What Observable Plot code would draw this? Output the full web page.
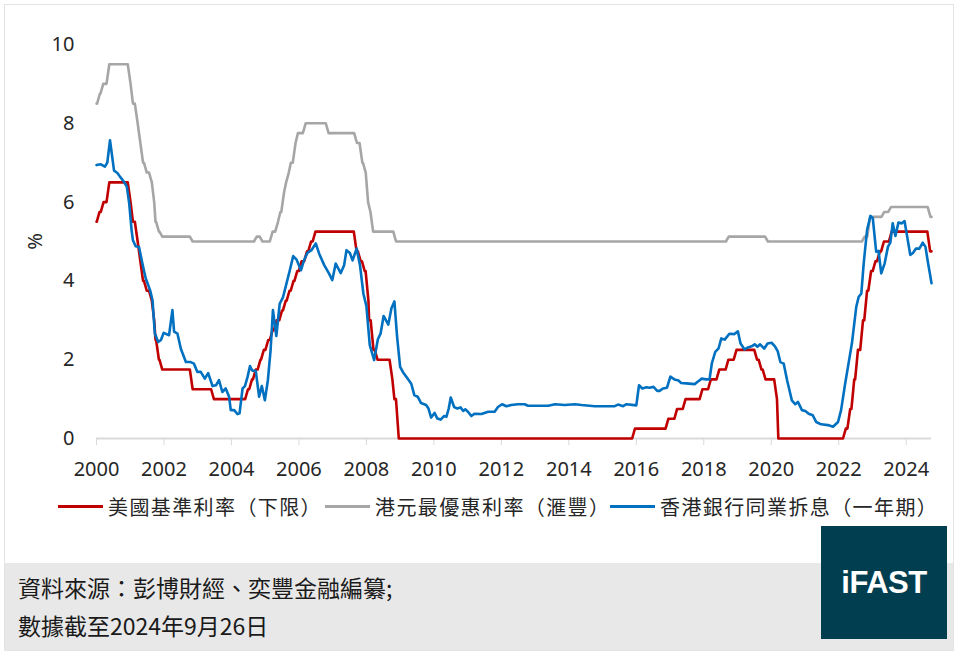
<!DOCTYPE html>
<html><head><meta charset="utf-8">
<script src="https://cdn.jsdelivr.net/npm/d3@7"></script>
<script src="https://cdn.jsdelivr.net/npm/@observablehq/plot@0.6"></script>
<style>
body{margin:0;background:#fff;}
#wrap{position:relative;width:964px;height:661px;overflow:hidden;font-family:"Noto Sans CJK TC","Noto Sans",sans-serif;color:#262626;}
#frame{position:absolute;left:4px;top:4px;width:950px;height:647px;border:1.5px solid #e3e3e3;box-sizing:border-box;}
#footer{position:absolute;left:5px;top:563px;width:948px;height:87px;background:#e8e8e8;}
#chart{position:absolute;left:0;top:0;}
.leg{position:absolute;top:491px;height:30px;display:flex;align-items:center;font-size:20px;white-space:nowrap;letter-spacing:1.4px;}
.sw{width:45px;height:3px;margin-right:5px;}
.foot{position:absolute;left:18px;font-size:23px;line-height:30px;color:#1a1a1a;white-space:nowrap;}
#logo{position:absolute;left:821px;top:526px;width:126px;height:113px;background:#003e50;color:#fff;display:flex;align-items:center;justify-content:center;font-family:"Liberation Sans",Arial,sans-serif;font-weight:bold;font-size:31px;letter-spacing:-0.5px;}
</style></head>
<body>
<div id="wrap">
  <div id="frame"></div>
  <div id="footer"></div>
  <div id="chart"></div>
  <div class="leg" id="leg0" style="left:58px"></div>
  <div class="leg" id="leg1" style="left:325px"></div>
  <div class="leg" id="leg2" style="left:610px"></div>
  <div class="foot" style="top:572px">資料來源：彭博財經、奕豐金融編纂;</div>
  <div class="foot" style="top:610px">數據截至2024年9月26日</div>
  <div id="logo">iFAST</div>
</div>
<script>
// Series names and colours
const seriesNames = ["美國基準利率（下限）", "港元最優惠利率（滙豐）", "香港銀行同業拆息（一年期）"];
const seriesColors = ["#c00000", "#a6a6a6", "#0070c0"];

// US policy rate, lower bound (change points, decimal years)
const redDates = [2000.00,2000.09,2000.21,2000.38,2001.01,2001.08,2001.22,2001.30,2001.38,2001.49,2001.64,2001.71,2001.75,2001.85,2001.95,2002.85,2003.48,2004.49,2004.61,2004.72,2004.86,2004.96,2005.09,2005.22,2005.34,2005.50,2005.61,2005.72,2005.84,2005.95,2006.08,2006.24,2006.36,2006.49,2007.71,2007.83,2007.95,2008.06,2008.08,2008.21,2008.33,2008.77,2008.83,2008.96,2015.96,2016.95,2017.21,2017.46,2017.96,2018.21,2018.46,2018.73,2018.97,2019.58,2019.71,2019.83,2020.17,2020.21,2022.21,2022.34,2022.46,2022.57,2022.72,2022.84,2022.96,2023.09,2023.22,2023.34,2023.57,2024.71,2024.75];
const redRates = [5.5,5.75,6.0,6.5,6.0,5.5,5.0,4.5,4.0,3.75,3.5,3.0,2.5,2.0,1.75,1.25,1.0,1.25,1.5,1.75,2.0,2.25,2.5,2.75,3.0,3.25,3.5,3.75,4.0,4.25,4.5,4.75,5.0,5.25,4.75,4.5,4.25,3.5,3.0,2.25,2.0,1.5,1.0,0,0.25,0.5,0.75,1.0,1.25,1.5,1.75,2.0,2.25,2.0,1.75,1.5,1.0,0,0.25,0.75,1.5,2.25,3.0,3.75,4.25,4.5,4.75,5.0,5.25,4.75,4.75];

// HKD prime rate, HSBC (change points)
const grayDates = [2000.00,2000.10,2000.20,2000.38,2001.01,2001.08,2001.22,2001.30,2001.38,2001.49,2001.64,2001.71,2001.75,2001.85,2001.95,2002.85,2004.75,2004.92,2005.22,2005.38,2005.45,2005.56,2005.62,2005.70,2005.76,2005.90,2005.97,2006.20,2006.88,2007.72,2007.88,2007.98,2008.05,2008.12,2008.20,2008.88,2018.74,2019.90,2022.77,2022.93,2023.35,2023.55,2024.72,2024.75];
const grayRates = [8.5,8.75,9.0,9.5,9.0,8.5,8.0,7.5,7.0,6.75,6.5,6.0,5.5,5.25,5.125,5.0,5.125,5.0,5.25,5.5,5.75,6.25,6.5,6.75,7.0,7.5,7.75,8.0,7.75,7.5,7.0,6.75,6.0,5.75,5.25,5.0,5.125,5.0,5.125,5.625,5.75,5.875,5.625,5.625];

// 12-month HIBOR
const blueDates = [2000.00,2000.13,2000.25,2000.32,2000.40,2000.52,2000.62,2000.70,2000.82,2000.90,2000.97,2001.04,2001.08,2001.16,2001.26,2001.36,2001.46,2001.59,2001.66,2001.73,2001.83,2001.91,2001.99,2002.15,2002.25,2002.30,2002.40,2002.50,2002.65,2002.79,2002.89,2002.99,2003.09,2003.21,2003.31,2003.44,2003.54,2003.63,2003.73,2003.83,2003.93,2003.98,2004.08,2004.18,2004.24,2004.33,2004.40,2004.48,2004.55,2004.62,2004.72,2004.82,2004.90,2004.99,2005.08,2005.16,2005.23,2005.33,2005.43,2005.53,2005.63,2005.73,2005.83,2005.93,2006.06,2006.15,2006.25,2006.37,2006.50,2006.60,2006.75,2006.89,2006.99,2007.09,2007.24,2007.34,2007.41,2007.51,2007.59,2007.71,2007.81,2007.91,2008.00,2008.10,2008.23,2008.34,2008.42,2008.51,2008.65,2008.74,2008.83,2008.91,2009.00,2009.08,2009.22,2009.33,2009.42,2009.52,2009.62,2009.77,2009.84,2009.92,2010.02,2010.10,2010.20,2010.30,2010.37,2010.44,2010.50,2010.60,2010.70,2010.79,2010.87,2010.93,2011.01,2011.11,2011.21,2011.41,2011.61,2011.80,2011.90,2012.02,2012.15,2012.29,2012.49,2012.69,2012.79,2013.39,2013.59,2013.88,2014.18,2014.38,2014.77,2015.36,2015.46,2015.61,2015.71,2016.00,2016.08,2016.18,2016.30,2016.39,2016.51,2016.62,2016.69,2016.79,2016.91,2017.01,2017.13,2017.25,2017.33,2017.48,2017.73,2017.82,2017.94,2018.07,2018.17,2018.24,2018.34,2018.44,2018.52,2018.62,2018.76,2018.91,2019.01,2019.09,2019.21,2019.31,2019.42,2019.51,2019.59,2019.67,2019.79,2019.89,2020.01,2020.11,2020.19,2020.27,2020.37,2020.47,2020.61,2020.71,2020.79,2020.91,2021.01,2021.11,2021.23,2021.33,2021.48,2021.68,2021.83,2021.98,2022.07,2022.19,2022.29,2022.39,2022.52,2022.59,2022.67,2022.74,2022.84,2022.94,2023.01,2023.11,2023.18,2023.26,2023.36,2023.46,2023.53,2023.60,2023.68,2023.77,2023.87,2023.95,2024.03,2024.12,2024.20,2024.29,2024.39,2024.49,2024.57,2024.65,2024.71,2024.75];
const blueRates = [6.94,6.96,6.90,7.00,7.57,6.80,6.74,6.64,6.51,6.39,5.96,5.29,5.03,4.88,4.86,4.44,4.06,3.76,3.51,2.66,2.45,2.50,2.68,2.62,3.26,2.71,2.66,2.28,1.94,1.94,1.90,1.69,1.69,1.52,1.66,1.33,1.35,1.48,1.18,1.27,1.06,0.72,0.72,0.62,0.64,1.27,1.33,1.57,1.84,1.72,1.72,1.06,1.33,0.97,1.48,2.24,3.26,2.60,3.42,3.59,3.93,4.27,4.63,4.54,4.27,4.52,4.71,4.78,4.95,4.69,4.40,4.19,4.02,4.44,4.20,4.40,4.78,4.71,4.52,4.82,4.40,3.68,3.36,2.37,1.99,2.52,2.66,3.11,2.89,3.30,3.48,2.58,1.82,1.69,1.52,1.39,1.10,1.06,0.90,0.85,0.76,0.53,0.65,0.51,0.48,0.57,0.55,0.76,1.04,0.80,0.76,0.79,0.70,0.74,0.68,0.57,0.63,0.62,0.68,0.68,0.80,0.87,0.82,0.85,0.87,0.87,0.83,0.83,0.87,0.85,0.87,0.85,0.82,0.82,0.86,0.82,0.87,0.84,1.35,1.27,1.30,1.29,1.31,1.21,1.21,1.27,1.29,1.57,1.50,1.47,1.41,1.40,1.38,1.44,1.52,1.50,1.50,1.91,2.20,2.29,2.54,2.51,2.66,2.65,2.72,2.41,2.26,2.31,2.34,2.39,2.33,2.39,2.28,2.41,2.43,2.34,2.22,1.94,1.90,1.48,0.97,0.87,0.93,0.72,0.70,0.63,0.59,0.42,0.36,0.34,0.30,0.42,0.72,1.39,1.90,2.41,3.34,3.59,3.68,4.44,5.29,5.65,5.59,4.74,4.76,4.19,4.44,4.87,4.97,5.46,5.14,5.48,5.46,5.52,5.12,4.66,4.71,4.82,4.82,4.97,4.87,4.44,4.15,3.94];

const xTicks = [2000,2002,2004,2006,2008,2010,2012,2014,2016,2018,2020,2022,2024];
const yTicks = [0,2,4,6,8,10];

// Step series as sampled monthly: each change is reached over the preceding month
const MONTH = 1 / 12;
function stepRows(ds, vs) {
  const rows = [];
  ds.forEach((d, i) => {
    if (i > 0 && vs[i] !== vs[i - 1]) {
      rows.push({date: Math.max(d - MONTH, ds[i - 1]), rate: vs[i - 1]});
    }
    rows.push({date: d, rate: vs[i]});
  });
  return rows;
}
const toRows = (ds, vs) => ds.map((d, i) => ({date: d, rate: vs[i]}));
const red = stepRows(redDates, redRates);
const gray = stepRows(grayDates, grayRates);
const blue = toRows(blueDates, blueRates);

const chart = Plot.plot({
  width: 964, height: 478,
  marginLeft: 96, marginRight: 33, marginTop: 44, marginBottom: 40,
  style: {fontFamily: '"Noto Sans", sans-serif', fontSize: "20px", color: "#262626", background: "transparent", overflow: "visible"},
  x: {domain: [2000, 2024.75]},
  y: {domain: [0, 10]},
  marks: [
    Plot.axisY({ticks: yTicks, tickSize: 0, tickPadding: 22, label: "%", labelAnchor: "center", labelOffset: 69, labelArrow: "none", fontSize: 20}),
    Plot.axisX({ticks: xTicks, tickFormat: d => String(d), tickSize: 7, tickPadding: 16, stroke: "#d9d9d9", fill: "#262626", label: null, fontSize: 20}),
    Plot.ruleY([0], {stroke: "#d9d9d9", strokeWidth: 2}),
    Plot.line(gray, {x: "date", y: "rate", stroke: seriesColors[1], strokeWidth: 2.6}),
    Plot.line(red, {x: "date", y: "rate", stroke: seriesColors[0], strokeWidth: 2.6}),
    Plot.line(blue, {x: "date", y: "rate", stroke: seriesColors[2], strokeWidth: 2.6})
  ]
});
document.getElementById("chart").appendChild(chart);

seriesNames.forEach((n, i) => {
  const el = document.getElementById("leg" + i);
  el.innerHTML = `<span class="sw" style="background:${seriesColors[i]}"></span><span>${n}</span>`;
});
</script>
</body></html>
